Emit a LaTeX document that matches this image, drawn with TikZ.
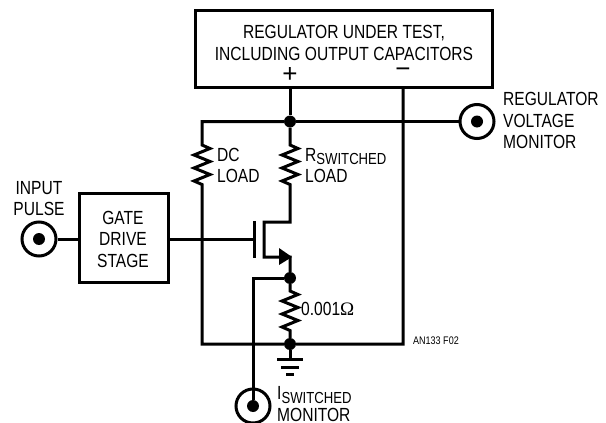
\documentclass[tikz,border=0pt]{standalone}
\usepackage{fontspec}
\setmainfont{Liberation Sans}[FakeStretch=0.82]
\newfontfamily\plainfont{Liberation Sans}
\newfontfamily\ohmfont{Liberation Serif}
\tikzset{
    wire/.style={line width=3pt},
    blockbox/.style={draw,line width=3pt,inner sep=0pt},
    dot/.style={circle,fill=black,inner sep=0pt,minimum size=12pt},
    coax/.style={circle,draw,line width=3pt,inner sep=0pt,minimum size=34pt},
    coaxdot/.style={circle,fill=black,inner sep=0pt,minimum size=12pt},
    lbl/.style={inner sep=0pt,font=\fontsize{19}{21.5}\selectfont},
    signlbl/.style={inner sep=0pt,font=\plainfont\fontsize{26}{26}\selectfont},
}
\newcommand{\zigres}{-- ++(8,3.5) -- ++(-16,6.5) -- ++(16,6.5) -- ++(-16,6.5) -- ++(16,6.5) -- ++(-16,6.5) -- ++(8,3.5)}

\begin{document}
\begin{tikzpicture}[x=1pt,y=-1pt]
    \useasboundingbox (0,0) rectangle (606,423);
    \node[blockbox,minimum width=297pt,minimum height=77pt] (reg) at (343.5,48.5) {};
    \node[blockbox,minimum width=89pt,minimum height=89pt] (gate) at (123.5,237.5) {};
    \node[lbl,align=center] (regtext) at (344,43) {REGULATOR UNDER TEST,\\INCLUDING OUTPUT CAPACITORS};
    \node[signlbl] (plus) at (290,75) {+};
    \node[signlbl] (minus) at (403,73) {\textminus};
    \node[lbl,align=center] (gatetext) at (123,239) {GATE\\DRIVE\\STAGE};
    \node[lbl,align=center,anchor=south] (intext) at (39,216) {INPUT\\PULSE};
    \node[lbl,align=left,anchor=west] (dctext) at (217,165.5) {DC\\LOAD};
    \node[lbl,align=left,anchor=west] (rswtext) at (305,165.5) {R\raisebox{-3pt}{\fontsize{16}{16}\selectfont SWITCHED}\\LOAD};
    \node[lbl,align=left,anchor=west] (vmontext) at (503,120.5) {REGULATOR\\VOLTAGE\\MONITOR};
    \node[lbl,anchor=west] (ohmtext) at (301,308.5) {0.001{\ohmfont Ω}};
    \node[lbl,align=left,anchor=west] (imontext) at (277,404) {I\raisebox{-4pt}{\fontsize{16}{16}\selectfont SWITCHED}\\MONITOR};
    \node[inner sep=0pt,font=\fontsize{11}{13}\selectfont,anchor=east] (figtext) at (459,341) {AN133 F02};

    \node[coax] (vmon) at (477,121.5) {};
    \node[coaxdot] (vmondot) at (vmon) {};
    \node[coax] (inmon) at (39,239) {};
    \node[coaxdot] (inmondot) at (inmon) {};
    \node[coax] (imon) at (253,406) {};
    \node[coaxdot] (imondot) at (imon) {};
    \node[dot] (jtop) at (290,121.5) {};
    \node[dot] (jsrc) at (290,278) {};
    \node[dot] (jbot) at (290,344) {};

    \coordinate (railtl) at (202,121.5);
    \coordinate (railbl) at (202,344);
    \coordinate (railbr) at (403,344);
    \coordinate (dctop) at (202,145);
    \coordinate (rswtop) at (290,145);
    \coordinate (senstop) at (290,291);
    \coordinate (gatein) at (254,239);
    \coordinate (drain) at (264,222);
    \coordinate (source) at (264,257);

    \draw[wire] (reg.south -| jtop) -- (jtop);
    \draw[wire] (jtop) -- (vmon);
    \draw[wire] (jtop) -- (railtl) -- (dctop) \zigres -- (railbl) -- (jbot) -- (railbr) -- (reg.south -| railbr);
    \draw[wire] (jtop) -- (rswtop) \zigres -- (290,222) -- (drain) -- (source) -- (290,257) -- (jsrc);
    \draw[wire] (jsrc) -- (senstop) \zigres -- (jbot);
    \draw[wire] (jsrc) -- (253,278) -- (imondot);
    \draw[wire] (inmon) -- (inmon -| gate.west);
    \draw[wire] (inmon -| gate.east) -- (gatein);
    \draw[wire] (254,221) -- (254,258);
    \fill (279,248) -- (292,257) -- (279,265) -- cycle;

    \draw[wire] (jbot) -- (290,359);
    \draw[wire] (277,359) -- (303,359);
    \draw[wire] (281,367) -- (299,367);
    \draw[wire] (286,374) -- (294,374);
\end{tikzpicture}
\end{document}
